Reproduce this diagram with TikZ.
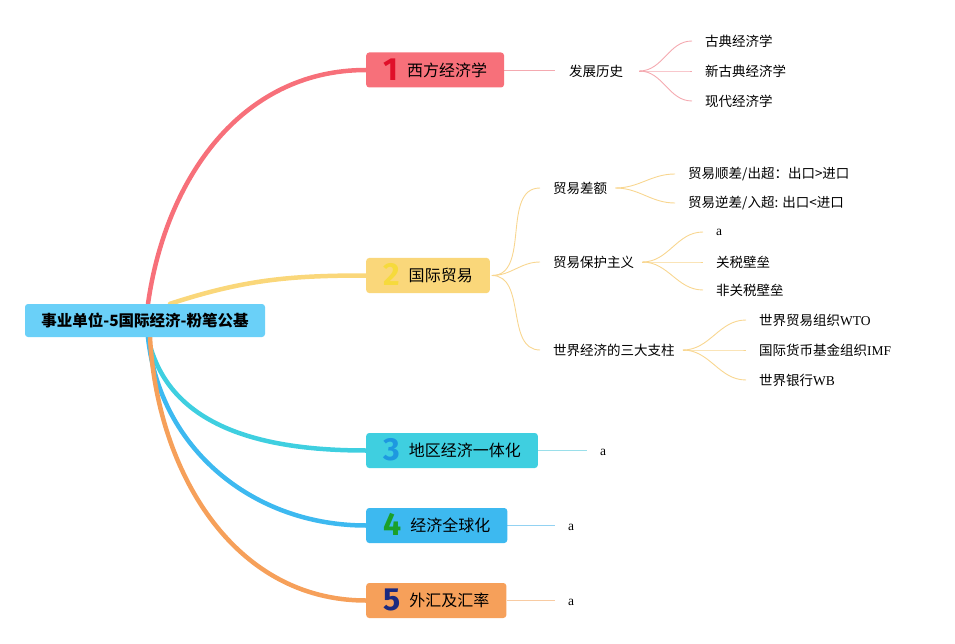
\documentclass[tikz,border=0pt]{standalone}
\usepackage{fontspec}
\setmainfont{Liberation Serif}
\newfontfamily\cjk{Noto Sans CJK SC}
\newfontfamily\numfont{Fira Sans}
\usetikzlibrary{backgrounds,calc}
\definecolor{rootc}{HTML}{6AD0F8}
\definecolor{redc}{HTML}{F7707A}
\definecolor{redl}{HTML}{F4A9B0}
\definecolor{redn}{HTML}{E0102A}
\definecolor{yelc}{HTML}{FAD77A}
\definecolor{yell}{HTML}{F8D690}
\definecolor{yeln}{HTML}{F6DA3C}
\definecolor{cyac}{HTML}{3FCFE0}
\definecolor{cyal}{HTML}{9ADFEA}
\definecolor{cyan}{HTML}{1E98E0}
\definecolor{bluc}{HTML}{3DB9F0}
\definecolor{blul}{HTML}{92D2F2}
\definecolor{blun}{HTML}{1AA02A}
\definecolor{orac}{HTML}{F6A05A}
\definecolor{oral}{HTML}{F8CBA2}
\definecolor{oran}{HTML}{1B2A80}
\newcommand\bnum[2]{\raisebox{-4pt}[0pt][0pt]{\color{#1}\fontsize{32}{32}\selectfont\numfont\bfseries #2}\hspace{9pt}}
\tikzset{
  mainbox/.style={rounded corners=3pt, minimum height=35pt, inner xsep=17pt, inner ysep=0pt, anchor=west, font=\fontsize{16}{18}\selectfont\cjk},
  leaf/.style={anchor=west, inner sep=3pt, font=\fontsize{13.5}{16}\selectfont},
  thickline/.style={line width=4.5pt, line cap=round},
  thinline/.style={line width=0.9pt},
}
\begin{document}
\begin{tikzpicture}[x=1pt,y=1pt]
\useasboundingbox (0,0) rectangle (955,-644);
% root
\node[fill=rootc, rounded corners=3pt, minimum width=240pt, minimum height=33pt, inner sep=0pt,
      font=\fontsize{15.5}{18}\selectfont\cjk\bfseries] (root) at (145,-320.5) {事业单位-5国际经济-粉笔公基};
% main branches
\node[mainbox, fill=redc] (b1) at (366,-70) {\bnum{redn}{1}西方经济学};
\node[mainbox, fill=yelc] (b2) at (366,-275.5) {\bnum{yeln}{2}国际贸易};
\node[mainbox, fill=cyac] (b3) at (366,-450.5) {\bnum{cyan}{3}地区经济一体化};
\node[mainbox, fill=bluc] (b4) at (366,-525.5) {\bnum{blun}{4}经济全球化};
\node[mainbox, fill=orac] (b5) at (366,-600.5) {\bnum{oran}{5}外汇及汇率};
% branch 1 children
\node[leaf] (h1) at (566,-71) {\cjk 发展历史};
\node[leaf] (c11) at (702,-41) {\cjk 古典经济学};
\node[leaf] (c12) at (702,-71) {\cjk 新古典经济学};
\node[leaf] (c13) at (702,-101) {\cjk 现代经济学};
% branch 2 children
\node[leaf] (t1) at (550,-188) {\cjk 贸易差额};
\node[leaf] (t2) at (550,-262) {\cjk 贸易保护主义};
\node[leaf] (t3) at (550,-350) {\cjk 世界经济的三大支柱};
\node[leaf] (t11) at (685,-174) {\cjk 贸易顺差/出超：出口>进口};
\node[leaf] (t12) at (685,-203) {\cjk 贸易逆差/入超: 出口<进口};
\node[leaf] (t21) at (713,-232) {a};
\node[leaf] (t22) at (713,-262) {\cjk 关税壁垒};
\node[leaf] (t23) at (713,-290) {\cjk 非关税壁垒};
\node[leaf] (t31) at (756,-320) {{\cjk 世界贸易组织}WTO};
\node[leaf] (t32) at (756,-350) {{\cjk 国际货币基金组织}IMF};
\node[leaf] (t33) at (756,-380) {{\cjk 世界银行}WB};
% branch 3-5 children
\node[leaf] (a3) at (597,-452) {a};
\node[leaf] (a4) at (565,-527) {a};
\node[leaf] (a5) at (565,-602) {a};
\begin{scope}[on background layer]
  \draw[thickline, redc] ([xshift=3pt]root.north) to[out=82,in=180] (b1.west);
  \draw[thickline, yelc] ([xshift=25pt]root.north) to[out=18,in=180] (b2.west);
  \draw[thickline, cyac] ([xshift=3pt]root.south) to[out=-78,in=180] (b3.west);
  \draw[thickline, bluc] ([xshift=3pt]root.south) to[out=-84,in=180] (b4.west);
  \draw[thickline, orac] ([xshift=5pt]root.south) to[out=-87,in=180] (b5.west);
  % branch 1
  \draw[thinline, redl] (b1.east) -- ([xshift=-11pt]b1.east -| h1.west);
  \foreach \c in {c11,c12,c13}
    \draw[thinline, redl] ([xshift=13pt]h1.east) to[out=0,in=180] ([xshift=-10pt]\c.west);
  % branch 2
  \foreach \c in {t1,t2,t3}
    \draw[thinline, yell] ([xshift=2pt]b2.east) to[out=0,in=180] ([xshift=-10pt]\c.west);
  \foreach \c in {t11,t12}
    \draw[thinline, yell] ([xshift=5pt]t1.east) to[out=0,in=180] ([xshift=-10pt]\c.west);
  \foreach \c in {t21,t22,t23}
    \draw[thinline, yell] ([xshift=5pt]t2.east) to[out=0,in=180] ([xshift=-10pt]\c.west);
  \foreach \c in {t31,t32,t33}
    \draw[thinline, yell] ([xshift=5pt]t3.east) to[out=0,in=180] ([xshift=-10pt]\c.west);
  % branches 3-5
  \draw[thinline, cyal] (b3.east) -- ([xshift=-10pt]b3.east -| a3.west);
  \draw[thinline, blul] (b4.east) -- ([xshift=-10pt]b4.east -| a4.west);
  \draw[thinline, oral] (b5.east) -- ([xshift=-10pt]b5.east -| a5.west);
\end{scope}
\end{tikzpicture}
\end{document}
